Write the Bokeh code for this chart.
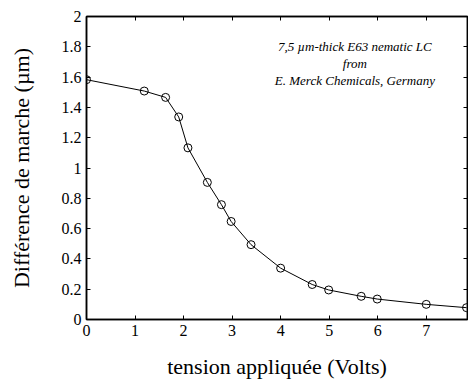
from bokeh.plotting import figure
from bokeh.models import LinearAxis, FixedTicker, Range1d, Label
from bokeh.embed import file_html
from bokeh.resources import INLINE

voltage = [0.0, 1.19, 1.63, 1.90, 2.09, 2.49, 2.78, 2.98, 3.39, 4.0, 4.65, 4.99, 5.66, 5.99, 7.0, 7.83]
retard = [1.583, 1.508, 1.466, 1.337, 1.133, 0.905, 0.758, 0.647, 0.494, 0.339, 0.231, 0.195, 0.153, 0.135, 0.100, 0.078]
x_ticks = [0, 1, 2, 3, 4, 5, 6, 7]
y_ticks = [0, 0.2, 0.4, 0.6, 0.8, 1.0, 1.2, 1.4, 1.6, 1.8, 2.0]
y_tick_labels = {0: "0", 0.2: "0.2", 0.4: "0.4", 0.6: "0.6", 0.8: "0.8", 1: "1",
                 1.2: "1.2", 1.4: "1.4", 1.6: "1.6", 1.8: "1.8", 2: "2"}
annotation = ["7,5 \u00b5m-thick E63 nematic LC", "from", "E. Merck Chemicals, Germany"]
annotation_x = 5.53
annotation_y = [1.803, 1.690, 1.577]

FONT = "Liberation Serif"

p = figure(width=468, height=381, output_backend="svg", toolbar_location=None,
           x_range=Range1d(0, 7.85), y_range=Range1d(0, 2),
           min_border_left=86, min_border_right=1, min_border_top=16, min_border_bottom=10)
p.background_fill_color = "white"
p.border_fill_color = "white"
p.grid.visible = False
p.outline_line_color = "black"
p.outline_line_width = 1.5

def style(ax, labels=True):
    ax.axis_line_width = 1.5
    ax.axis_line_color = "black"
    ax.major_tick_in = 4
    ax.major_tick_out = 0
    ax.minor_tick_line_color = None
    ax.major_tick_line_color = "black"
    ax.major_label_text_font = FONT
    ax.major_label_text_font_size = "16px"
    ax.major_label_text_color = "black"
    ax.axis_label_text_color = "black"
    if not labels:
        ax.major_label_overrides = {t: "" for t in ax.ticker.ticks}
        ax.major_label_standoff = 0

xa = p.xaxis[0]
xa.ticker = FixedTicker(ticks=x_ticks)
style(xa)
xa.major_label_standoff = 5
xa.axis_label = "tension appliqu\u00e9e (Volts)"
xa.axis_label_text_font = FONT
xa.axis_label_text_font_style = "normal"
xa.axis_label_text_font_size = "22px"
xa.axis_label_standoff = 15

ya = p.yaxis[0]
ya.ticker = FixedTicker(ticks=y_ticks)
ya.major_label_overrides = y_tick_labels
style(ya)
ya.major_label_standoff = 5
ya.axis_label = "Diff\u00e9rence de marche (\u00b5m)"
ya.axis_label_text_font = FONT
ya.axis_label_text_font_style = "normal"
ya.axis_label_text_font_size = "22px"
ya.axis_label_standoff = 25

top = LinearAxis(ticker=FixedTicker(ticks=x_ticks))
style(top, labels=False)
p.add_layout(top, "above")
right = LinearAxis(ticker=FixedTicker(ticks=y_ticks))
style(right, labels=False)
p.add_layout(right, "right")

p.line(voltage, retard, line_color="black", line_width=1)
p.scatter(voltage, retard, marker="circle", size=8, line_color="black",
          fill_color=None, line_width=1)

for t, yy in zip(annotation, annotation_y):
    p.add_layout(Label(x=annotation_x, y=yy, text=t, text_font=FONT,
                       text_font_style="italic", text_font_size="13px",
                       text_color="black",
                       text_align="center", text_baseline="middle"))

open("out.html", "w").write(file_html(p, INLINE))
